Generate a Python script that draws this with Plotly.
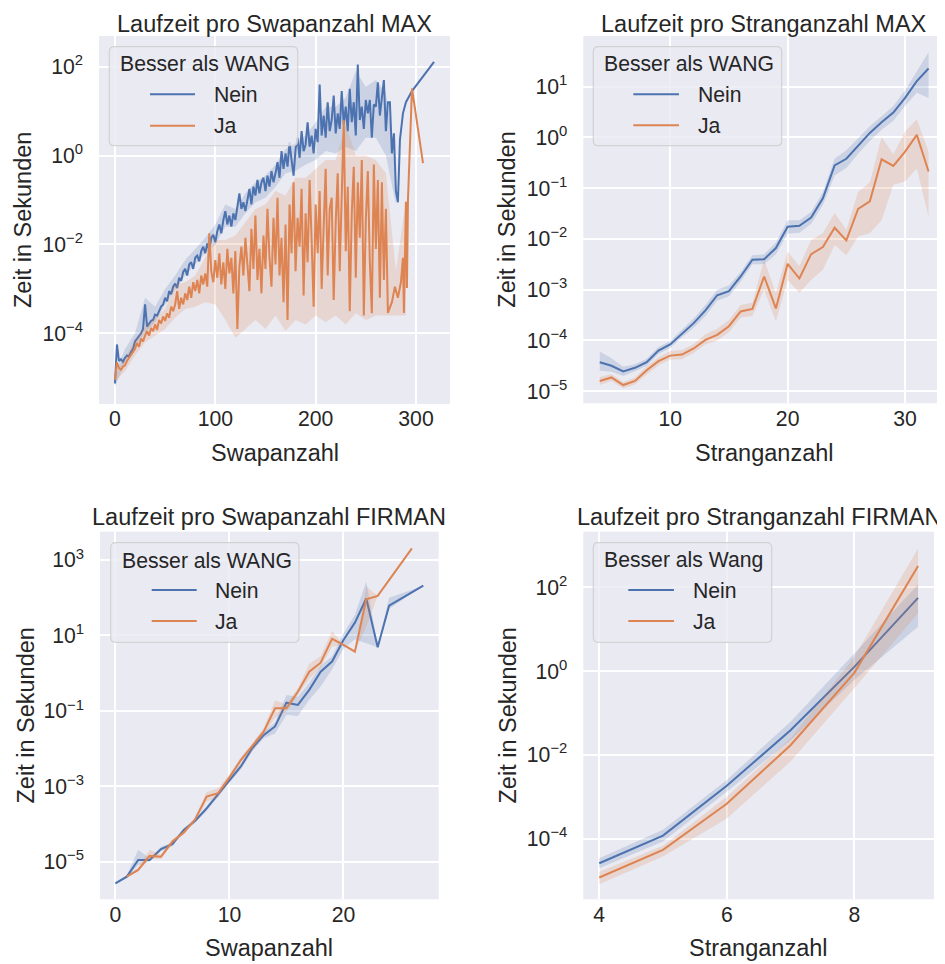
import plotly.graph_objects as go

W, H = 945, 964          # browser window
OFF = 8                  # default page margin of the html body
FW, FH = W - OFF, H - OFF  # figure size so that it fits the window
BLUE, ORANGE = "#4C72B0", "#DD8452"
BLUE_BAND, ORANGE_BAND = "rgba(76,114,176,0.2)", "rgba(221,132,82,0.2)"
BG, TXT = "#EAEAF2", "#262626"
FONT = "Liberation Sans, Arial, sans-serif"

# ---------------- data (values are log10 of seconds) ----------------
# Panel 1: Laufzeit pro Swapanzahl MAX
swap_max_nein_x = list(range(0, 282, 2)) + [282, 284, 287, 290, 296, 318]
swap_max_nein = [
    -5.13, -4.25, -4.62, -4.58, -4.64, -4.55, -4.50, -4.52, -4.42, -4.35,
    -4.18, -4.12, -4.05, -4.00, -3.90, -3.35, -3.85, -3.78, -3.72, -3.70,
    -3.58, -3.60, -3.48, -3.40, -3.35, -3.20, -3.28, -3.05, -3.12, -2.95,
    -2.88, -2.98, -2.75, -2.82, -2.62, -2.55, -2.70, -2.45, -2.40, -2.55,
    -2.30, -2.25, -2.38, -2.15, -2.05, -2.20, -1.98, -2.12, -1.85, -1.78,
    -1.95, -1.70, -1.55, -1.75, -1.45, -1.25, -1.55, -1.35, -1.60, -1.30,
    -1.45, -1.15, -0.85, -1.20, -1.05, -1.25, -0.95, -0.75, -1.10, -0.70,
    -0.90, -0.55, -0.85, -0.60, -0.50, -0.80, -0.45, -0.70, -0.35, -0.60,
    -0.40, -0.15, -0.50, 0.10, -0.30, 0.05, -0.25, 0.30, -0.10, -0.45,
    0.15, 0.40, -0.05, 0.55, 0.10, 0.25, 0.75, 0.20, 0.45, 0.05,
    0.60, 0.30, 1.60, 0.45, 0.90, 0.40, 1.20, 0.55, 0.80, 1.35,
    0.50, 0.95, 0.60, 1.45, 0.70, 1.10, 0.55, 1.50, 0.75, 1.20,
    0.45, 2.05, 0.80, 1.10, 0.60, 1.25, 0.95, 1.25, 0.40, 1.15,
    1.10, 1.65, 0.90, 1.25, 1.70, 0.55, 1.20, 1.20, 0.05, 0.50,
    -0.80,
    -1.05, 0.35, 0.95, 1.20, 1.45, 2.11]
swap_max_nein_band_x = list(range(0, 290, 10))
swap_max_nein_lo = [-5.2, -4.65, -4.3, -4.0, -3.75, -3.35, -3.0, -2.7, -2.45, -2.2,
                    -2.0, -1.6, -1.6, -1.3, -1.05, -0.95, -0.7, -0.4, -0.35, -0.2,
                    -0.1, 0.1, 0.05, 0.2, 0.1, 0.4, 0.4, 0.0, -1.1]
swap_max_nein_hi = [-4.9, -4.35, -4.0, -3.2, -3.4, -3.0, -2.7, -2.35, -2.1, -1.85,
                    -1.55, -1.1, -1.2, -0.85, -0.6, -0.45, -0.2, 0.15, 0.3, 0.45,
                    0.75, 1.1, 1.1, 1.3, 1.9, 1.55, 1.7, 1.4, -0.1]

swap_max_ja_x = list(range(0, 272, 2)) + [272, 276, 279, 282, 285, 287, 288, 290, 291, 292, 296, 307]
swap_max_ja = [
    -5.04, -4.65, -4.78, -4.82, -4.75, -4.72, -4.62, -4.55, -4.50, -4.40,
    -4.35, -4.22, -4.30, -4.12, -4.18, -4.05, -3.95, -4.05, -3.88, -3.95,
    -3.80, -3.92, -3.70, -3.78, -3.62, -3.72, -3.55, -3.65, -3.40, -3.50,
    -3.35, -3.05, -3.45, -3.20, -3.35, -3.10, -3.25, -2.95, -3.20, -2.85,
    -3.05, -2.80, -3.10, -2.70, -2.90, -2.65, -2.95, -1.75, -2.60, -2.85,
    -2.35, -2.75, -2.20, -2.90, -2.40, -3.00, -2.10, -2.65, -2.30, -3.10,
    -2.15, -3.90, -2.50, -2.05, -2.70, -1.85, -2.45, -3.05, -1.65, -2.55,
    -1.35, -2.80, -2.10, -3.10, -1.80, -2.55, -1.20, -2.30, -2.95, -1.40,
    -2.45, -0.95, -2.70, -1.85, -3.30, -1.55, -3.70, -1.10, -2.20, -0.60,
    -2.60, -1.40, -2.05, -0.75, -3.15, -1.30, -2.40, -0.55, -1.90, -3.40,
    -1.10, -2.20, -0.80, -3.00, -1.60, -0.30, -2.70, -1.20, -0.95, -3.25,
    -1.50, -0.40, -2.60, -1.05, 0.80, -2.15, -0.70, -3.50, -1.30, -0.25,
    -2.75, -0.60, -1.85, -0.10, -3.60, -1.45, -0.35, -2.40, -3.55, -0.20,
    -2.10, -0.55, -3.20, -0.60, -2.80, -1.20,
    -3.54, -3.30, -2.95, -3.20, -2.85, -2.30, -3.54, -1.04, -2.98, -1.00, 1.51, -0.17]
swap_max_ja_band_x = list(range(0, 300, 10))
swap_max_ja_lo = [-5.1, -4.85, -4.5, -4.2, -4.05, -3.9, -3.65, -3.45, -3.4, -3.3,
                  -3.35, -3.7, -4.1, -3.9, -3.7, -3.9, -3.6, -3.95, -3.7, -3.8,
                  -3.6, -3.75, -3.6, -3.8, -3.55, -3.7, -3.6, -3.6, -3.6, -3.6]
swap_max_ja_hi = [-4.9, -4.55, -4.15, -3.85, -3.65, -3.45, -2.9, -2.85, -2.7, -2.3,
                  -1.9, -1.9, -1.8, -1.5, -1.2, -1.1, -0.8, -0.9, -0.5, -0.5,
                  -0.3, -0.1, -0.1, 0.7, 0.0, 0.0, -0.1, -0.4, -2.6, -1.0]

# Panel 2: Laufzeit pro Stranganzahl MAX
str_max_x = list(range(4, 33))
str_max_nein = [-4.43, -4.50, -4.61, -4.54, -4.43, -4.20, -4.08, -3.86, -3.66, -3.41,
                -3.11, -3.03, -2.74, -2.41, -2.40, -2.18, -1.76, -1.74, -1.58, -1.20,
                -0.55, -0.42, -0.16, 0.09, 0.30, 0.49, 0.78, 1.11, 1.36]
str_max_nein_lo = [-4.60, -4.62, -4.70, -4.61, -4.50, -4.27, -4.15, -3.94, -3.75, -3.52,
                   -3.22, -3.13, -2.84, -2.50, -2.50, -2.30, -1.90, -1.88, -1.70, -1.33,
                   -0.75, -0.60, -0.32, -0.07, 0.15, 0.33, 0.62, 0.88, 0.78]
str_max_nein_hi = [-4.22, -4.35, -4.52, -4.47, -4.36, -4.13, -4.01, -3.78, -3.57, -3.30,
                   -3.00, -2.92, -2.65, -2.32, -2.30, -2.07, -1.63, -1.63, -1.47, -1.08,
                   -0.42, -0.25, -0.02, 0.22, 0.42, 0.62, 0.93, 1.30, 1.68]
str_max_ja = [-4.80, -4.73, -4.88, -4.80, -4.59, -4.41, -4.30, -4.28, -4.16, -3.99,
              -3.89, -3.72, -3.43, -3.38, -2.74, -3.37, -2.49, -2.78, -2.30, -2.16,
              -1.78, -2.03, -1.41, -1.26, -0.43, -0.56, -0.28, 0.05, -0.67]
str_max_ja_lo = [-4.88, -4.80, -4.95, -4.87, -4.67, -4.49, -4.38, -4.37, -4.25, -4.08,
                 -4.00, -3.84, -3.55, -3.52, -3.00, -3.63, -2.81, -3.06, -2.81, -2.61,
                 -2.12, -2.32, -1.95, -1.89, -1.63, -0.93, -0.87, -0.61, -1.56]
str_max_ja_hi = [-4.72, -4.66, -4.82, -4.73, -4.51, -4.33, -4.21, -4.19, -4.07, -3.88,
                 -3.77, -3.60, -3.30, -3.26, -2.41, -3.07, -2.25, -2.54, -2.02, -1.89,
                 -1.49, -1.82, -1.07, -0.89, 0.01, -0.33, 0.12, 0.36, -0.28]

# Panel 3: Laufzeit pro Swapanzahl FIRMAN
swap_f_nein_x = list(range(0, 25)) + [27]
swap_f_nein = [-5.57, -5.39, -4.95, -4.95, -4.66, -4.53, -4.15, -3.91, -3.58, -3.20,
               -2.83, -2.47, -1.99, -1.64, -1.41, -0.78, -0.84, -0.44, 0.04, 0.31,
               0.88, 1.34, 1.98, 0.69, 1.79, 2.32]
swap_f_nein_lo = [-5.60, -5.42, -5.08, -5.00, -4.72, -4.58, -4.20, -3.96, -3.65, -3.27,
                  -2.90, -2.55, -2.07, -1.72, -1.60, -1.10, -1.13, -0.70, -0.35, 0.10,
                  0.65, 0.90, 0.79, 0.69, 1.70, 2.32]
swap_f_nein_hi = [-5.54, -5.36, -4.68, -4.90, -4.60, -4.48, -4.10, -3.86, -3.52, -3.13,
                  -2.76, -2.40, -1.92, -1.56, -1.30, -0.58, -0.62, -0.25, 0.20, 0.45,
                  1.05, 1.55, 2.43, 0.69, 2.00, 2.32]
swap_f_ja_x = list(range(1, 24)) + [26]
swap_f_ja = [-5.39, -5.21, -4.84, -4.86, -4.46, -4.22, -3.87, -3.27, -3.18, -2.76,
             -2.30, -1.94, -1.55, -0.93, -0.93, -0.49, 0.04, 0.28, 0.91, 0.75,
             0.57, 1.96, 2.05, 3.31]
swap_f_ja_lo = [-5.42, -5.25, -4.92, -4.92, -4.52, -4.28, -3.93, -3.40, -3.30, -2.83,
                -2.38, -2.02, -1.65, -1.18, -1.02, -0.58, -0.15, 0.15, 0.70, 0.75,
                0.57, 1.23, 2.05, 3.31]
swap_f_ja_hi = [-5.36, -5.15, -4.68, -4.80, -4.40, -4.16, -3.80, -3.15, -3.05, -2.68,
                -2.22, -1.86, -1.45, -0.72, -0.82, -0.40, 0.25, 0.45, 1.12, 0.75,
                0.57, 2.30, 2.05, 3.31]

# Panel 4: Laufzeit pro Stranganzahl FIRMAN
str_f_x = [4, 5, 6, 7, 8, 9]
str_f_nein = [-4.59, -3.93, -2.74, -1.41, 0.10, 1.75]
str_f_nein_lo = [-4.71, -4.07, -2.88, -1.65, -0.21, 1.06]
str_f_nein_hi = [-4.47, -3.79, -2.60, -1.21, 0.42, 2.07]
str_f_ja = [-4.93, -4.27, -3.17, -1.77, -0.04, 2.51]
str_f_ja_lo = [-5.09, -4.43, -3.52, -2.16, -0.41, 1.38]
str_f_ja_hi = [-4.79, -4.17, -3.00, -1.61, 0.34, 2.93]

legend_labels = ["Nein", "Ja"]
titles = ["Laufzeit pro Swapanzahl MAX", "Laufzeit pro Stranganzahl MAX",
          "Laufzeit pro Swapanzahl FIRMAN", "Laufzeit pro Stranganzahl FIRMAN"]
legend_titles = ["Besser als WANG", "Besser als WANG", "Besser als WANG", "Besser als Wang"]
xlabels = ["Swapanzahl", "Stranganzahl", "Swapanzahl", "Stranganzahl"]
ylabel = "Zeit in Sekunden"
x_ticks = [[0, 100, 200, 300], [10, 20, 30], [0, 10, 20], [4, 6, 8]]
y_tick_exps = [[-4, -2, 0, 2], [-5, -4, -3, -2, -1, 0, 1], [-5, -3, -1, 1, 3], [-4, -2, 0, 2]]


# ---------------- layout geometry (window pixels) ----------------
def PX(p):
    return (p - OFF) / FW


def PY(p):
    return 1 - (p - OFF) / FH


panels = [
    dict(dx=(99, 450), dy=(36, 404), xr=[-15.9, 333.9], yr=[-5.59, 2.69],
         title_y=23.5, ytitle_x=23, xtitle_y=453,
         leg=dict(box=(109.3, 46.7, 297.7, 145.7), tx=118, ty=63.3, lx=(150, 195), ly=(94.3, 125.7), txt=212)),
    dict(dx=(583.3, 945), dy=(36, 403.3), xr=[2.6, 33.4], yr=[-5.24, 2.0],
         title_y=23.5, ytitle_x=507, xtitle_y=453,
         leg=dict(box=(593.3, 46.7, 781.7, 145.7), tx=602.3, ty=63.3, lx=(633.3, 679), ly=(94.3, 125.3), txt=696)),
    dict(dx=(100, 438.7), dy=(531.7, 899.3), xr=[-1.35, 28.35], yr=[-5.99, 3.75],
         title_y=517, ytitle_x=25, xtitle_y=948,
         leg=dict(box=(110.7, 542.7, 299, 642.3), tx=120, ty=560, lx=(151.7, 196.7), ly=(590, 621), txt=213.3)),
    dict(dx=(583.3, 934), dy=(531.7, 899.3), xr=[3.75, 9.25], yr=[-5.45, 3.33],
         title_y=517, ytitle_x=507, xtitle_y=948,
         leg=dict(box=(593.3, 542.7, 771.7, 642.3), tx=602.3, ty=560, lx=(628.3, 674), ly=(590, 621), txt=690.7)),
]

series = [
    [(swap_max_nein_x, swap_max_nein, swap_max_nein_band_x, swap_max_nein_lo, swap_max_nein_hi),
     (swap_max_ja_x, swap_max_ja, swap_max_ja_band_x, swap_max_ja_lo, swap_max_ja_hi)],
    [(str_max_x, str_max_nein, str_max_x, str_max_nein_lo, str_max_nein_hi),
     (str_max_x, str_max_ja, str_max_x, str_max_ja_lo, str_max_ja_hi)],
    [(swap_f_nein_x, swap_f_nein, swap_f_nein_x, swap_f_nein_lo, swap_f_nein_hi),
     (swap_f_ja_x, swap_f_ja, swap_f_ja_x, swap_f_ja_lo, swap_f_ja_hi)],
    [(str_f_x, str_f_nein, str_f_x, str_f_nein_lo, str_f_nein_hi),
     (str_f_x, str_f_ja, str_f_x, str_f_ja_lo, str_f_ja_hi)],
]

colors = [BLUE, ORANGE]
bands = [BLUE_BAND, ORANGE_BAND]


def sup(n):
    return "10<sup>" + ("\u2212" + str(-n) if n < 0 else str(n)) + "</sup>"


def rrect(x0, y0, x1, y1, r=5):
    return (f"M {PX(x0 + r)},{PY(y0)} L {PX(x1 - r)},{PY(y0)} Q {PX(x1)},{PY(y0)} {PX(x1)},{PY(y0 + r)} "
            f"L {PX(x1)},{PY(y1 - r)} Q {PX(x1)},{PY(y1)} {PX(x1 - r)},{PY(y1)} "
            f"L {PX(x0 + r)},{PY(y1)} Q {PX(x0)},{PY(y1)} {PX(x0)},{PY(y1 - r)} "
            f"L {PX(x0)},{PY(y0 + r)} Q {PX(x0)},{PY(y0)} {PX(x0 + r)},{PY(y0)} Z")


fig = go.Figure()
layout = dict(width=FW, height=FH, margin=dict(l=0, r=0, t=0, b=0),
              paper_bgcolor="white", plot_bgcolor=BG, showlegend=False,
              font=dict(family=FONT, color=TXT, size=21.2))
annotations, shapes = [], []

for i, (p, ser) in enumerate(zip(panels, series)):
    k = "" if i == 0 else str(i + 1)
    xa, ya = "x" + k, "y" + k
    for (x, ly, bx, blo, bhi), c, bc in zip(ser, colors, bands):
        fig.add_trace(go.Scatter(
            x=list(bx) + list(bx)[::-1],
            y=[10 ** v for v in bhi] + [10 ** v for v in blo][::-1],
            fill="toself", fillcolor=bc, line=dict(width=0), mode="lines",
            hoverinfo="skip", xaxis=xa, yaxis=ya))
        fig.add_trace(go.Scatter(
            x=x, y=[10 ** v for v in ly], mode="lines",
            line=dict(color=c, width=2), xaxis=xa, yaxis=ya))
    layout["xaxis" + k] = dict(
        domain=[PX(p["dx"][0]), min(1.0, PX(p["dx"][1]))], range=p["xr"], anchor=ya,
        tickvals=x_ticks[i], showgrid=True, gridcolor="white", gridwidth=1.6,
        zeroline=False, showline=False, ticks="", ticklabelstandoff=0,
        tickfont=dict(size=21.2, color=TXT, family=FONT))
    layout["yaxis" + k] = dict(
        type="log", domain=[PY(p["dy"][1]), PY(p["dy"][0])], range=p["yr"], anchor=xa,
        tickvals=[10.0 ** e for e in y_tick_exps[i]], ticktext=[sup(e) for e in y_tick_exps[i]],
        showgrid=True, gridcolor="white", gridwidth=1.6,
        zeroline=False, showline=False, ticks="", ticklabelstandoff=15,
        tickfont=dict(size=21.2, color=TXT, family=FONT))
    cx = (p["dx"][0] + p["dx"][1]) / 2
    cy = (p["dy"][0] + p["dy"][1]) / 2
    annotations.append(dict(text=titles[i], x=PX(cx), y=PY(p["title_y"]), xref="paper", yref="paper",
                            xanchor="center", yanchor="middle", showarrow=False,
                            font=dict(size=23.5, color=TXT, family=FONT)))
    annotations.append(dict(text=xlabels[i], x=PX(cx), y=PY(p["xtitle_y"]), xref="paper", yref="paper",
                            xanchor="center", yanchor="middle", showarrow=False,
                            font=dict(size=23.5, color=TXT, family=FONT)))
    annotations.append(dict(text=ylabel, x=PX(p["ytitle_x"]), y=PY(cy), xref="paper", yref="paper",
                            xanchor="center", yanchor="middle", textangle=-90, showarrow=False,
                            font=dict(size=23.5, color=TXT, family=FONT)))
    lg = p["leg"]
    x0, y0, x1, y1 = lg["box"]
    shapes.append(dict(type="path", path=rrect(x0, y0, x1, y1), xref="paper", yref="paper",
                       fillcolor="rgba(234,234,242,0.8)", line=dict(color="rgba(204,204,204,0.8)", width=1.2),
                       layer="above"))
    annotations.append(dict(text=legend_titles[i], x=PX(lg["tx"]), y=PY(lg["ty"]), xref="paper", yref="paper",
                            xanchor="left", yanchor="middle", showarrow=False,
                            font=dict(size=21.2, color=TXT, family=FONT)))
    for lab, c, yy in zip(legend_labels, colors, lg["ly"]):
        shapes.append(dict(type="line", x0=PX(lg["lx"][0]), x1=PX(lg["lx"][1]), y0=PY(yy), y1=PY(yy),
                           xref="paper", yref="paper", line=dict(color=c, width=2), layer="above"))
        annotations.append(dict(text=lab, x=PX(lg["txt"]), y=PY(yy), xref="paper", yref="paper",
                                xanchor="left", yanchor="middle", showarrow=False,
                                font=dict(size=21.2, color=TXT, family=FONT)))

layout["annotations"] = annotations
layout["shapes"] = shapes
fig.update_layout(**layout)
fig.write_html("out.html")
